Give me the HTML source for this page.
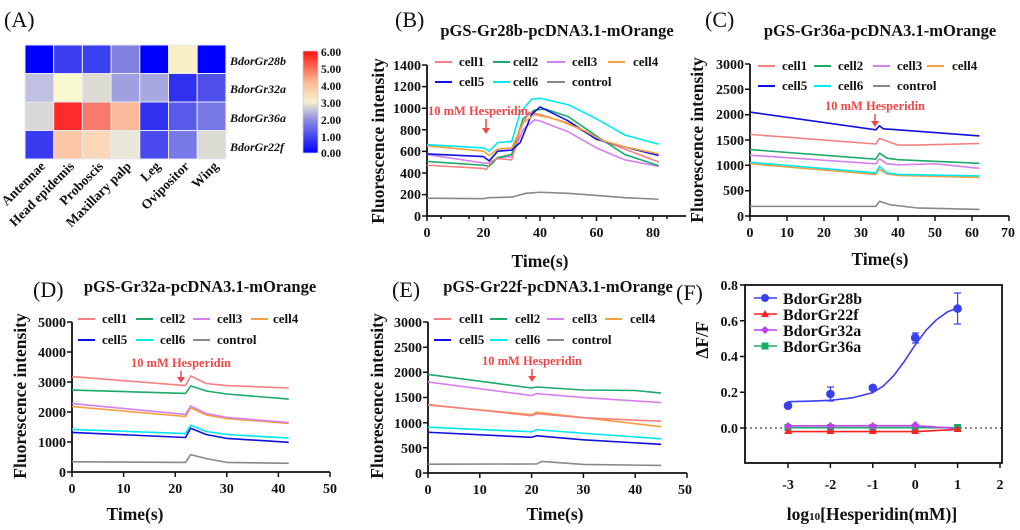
<!DOCTYPE html>
<html><head><meta charset="utf-8"><style>
html,body{margin:0;padding:0;background:#fff}
svg{display:block}
text{font-family:"Liberation Serif",serif;font-weight:bold;fill:#111}
.t{font-size:14px}
.lg{font-size:13px}
.ttl{font-size:16.5px}
.pl{font-size:22px;font-weight:normal}
.ax{font-size:17.5px}
.ln{fill:none;stroke-width:1.6;vector-effect:non-scaling-stroke;stroke-linejoin:round}
.axl{stroke:#111;stroke-width:1.8;fill:none}
.an{font-size:12.5px;fill:#f04848}
</style></head><body>
<svg width="1020" height="530" viewBox="0 0 1020 530" xmlns="http://www.w3.org/2000/svg">
<defs>
<linearGradient id="cb" x1="0" y1="1" x2="0" y2="0">
<stop offset="0" stop-color="#0000ff"/><stop offset="0.33" stop-color="#9090e0"/><stop offset="0.5" stop-color="#f5f0d0"/><stop offset="0.7" stop-color="#fbb890"/><stop offset="1" stop-color="#ff1010"/>
</linearGradient>
</defs>
<!-- (A) heatmap -->
<text x="4" y="27" class="pl">(A)</text>
<g stroke="#e8e8f0" stroke-width="1">
<rect x="25" y="45" width="28.7" height="28.5" fill="#0000ff"/>
<rect x="53.7" y="45" width="28.7" height="28.5" fill="#3a3ef0"/>
<rect x="82.4" y="45" width="28.7" height="28.5" fill="#3a40f0"/>
<rect x="111.1" y="45" width="28.7" height="28.5" fill="#8080e0"/>
<rect x="139.8" y="45" width="28.7" height="28.5" fill="#0000ff"/>
<rect x="168.5" y="45" width="28.7" height="28.5" fill="#faf0c8"/>
<rect x="197.2" y="45" width="28.7" height="28.5" fill="#0000ff"/>
<rect x="25" y="73.5" width="28.7" height="28.5" fill="#c0c0e0"/>
<rect x="53.7" y="73.5" width="28.7" height="28.5" fill="#fafad0"/>
<rect x="82.4" y="73.5" width="28.7" height="28.5" fill="#dcdcd4"/>
<rect x="111.1" y="73.5" width="28.7" height="28.5" fill="#a0a0e0"/>
<rect x="139.8" y="73.5" width="28.7" height="28.5" fill="#a8a8e0"/>
<rect x="168.5" y="73.5" width="28.7" height="28.5" fill="#3030f0"/>
<rect x="197.2" y="73.5" width="28.7" height="28.5" fill="#5050ea"/>
<rect x="25" y="102" width="28.7" height="28.5" fill="#d8d8d8"/>
<rect x="53.7" y="102" width="28.7" height="28.5" fill="#ff2a2a"/>
<rect x="82.4" y="102" width="28.7" height="28.5" fill="#f87a6a"/>
<rect x="111.1" y="102" width="28.7" height="28.5" fill="#fbb89a"/>
<rect x="139.8" y="102" width="28.7" height="28.5" fill="#3030f0"/>
<rect x="168.5" y="102" width="28.7" height="28.5" fill="#5a5aea"/>
<rect x="197.2" y="102" width="28.7" height="28.5" fill="#7878e6"/>
<rect x="25" y="130.5" width="28.7" height="28.5" fill="#3a3af0"/>
<rect x="53.7" y="130.5" width="28.7" height="28.5" fill="#fcc8a8"/>
<rect x="82.4" y="130.5" width="28.7" height="28.5" fill="#fcd8b8"/>
<rect x="111.1" y="130.5" width="28.7" height="28.5" fill="#e8e8d8"/>
<rect x="139.8" y="130.5" width="28.7" height="28.5" fill="#4a4aee"/>
<rect x="168.5" y="130.5" width="28.7" height="28.5" fill="#7878e8"/>
<rect x="197.2" y="130.5" width="28.7" height="28.5" fill="#dcdcd4"/>
</g>
<g style="font-style:italic;font-size:12px">
<text x="230" y="65">BdorGr28b</text>
<text x="230" y="93">BdorGr32a</text>
<text x="230" y="122">BdorGr36a</text>
<text x="230" y="151">BdorGr22f</text>
</g>
<g text-anchor="end" style="font-size:13.5px">
<text transform="translate(46,167) rotate(-45)">Antennae</text>
<text transform="translate(75,167) rotate(-45)">Head epidemis</text>
<text transform="translate(104,167) rotate(-45)">Proboscis</text>
<text transform="translate(132,167) rotate(-45)">Maxillary palp</text>
<text transform="translate(161,167) rotate(-45)">Leg</text>
<text transform="translate(190,167) rotate(-45)">Ovipositor</text>
<text transform="translate(219,167) rotate(-45)">Wing</text>
</g>
<rect x="303" y="51" width="15" height="102" fill="url(#cb)" stroke="#ccd" stroke-width="0.8"/>
<g style="font-size:11.5px">
<text x="321" y="56">6.00</text><text x="321" y="73">5.00</text><text x="321" y="90">4.00</text><text x="321" y="107">3.00</text><text x="321" y="124">2.00</text><text x="321" y="141">1.00</text><text x="321" y="157">0.00</text>
</g>

<!-- (B) -->
<text x="395" y="27" class="pl">(B)</text>
<text x="557" y="36" class="ttl" text-anchor="middle">pGS-Gr28b-pcDNA3.1-mOrange</text>
<path class="axl" d="M427,65 V216 H686"/>
<g stroke="#111" stroke-width="1.5">
<path d="M422,65h5M422,86.6h5M422,108.2h5M422,129.8h5M422,151.4h5M422,173h5M422,194.6h5M422,216h5"/>
<path d="M427,216v5M483.5,216v5M540,216v5M596.5,216v5M653,216v5M441,216v3M469,216v3M498,216v3M526,216v3M554,216v3M582,216v3M611,216v3M639,216v3M667,216v3"/>
</g>
<g class="t" text-anchor="end">
<text x="421" y="70">1400</text><text x="421" y="91">1200</text><text x="421" y="113">1000</text><text x="421" y="135">800</text><text x="421" y="156">600</text><text x="421" y="178">400</text><text x="421" y="199">200</text><text x="421" y="221">0</text>
</g>
<g class="t" text-anchor="middle">
<text x="427" y="237">0</text><text x="483.5" y="237">20</text><text x="540" y="237">40</text><text x="596.5" y="237">60</text><text x="653" y="237">80</text>
</g>
<text x="540" y="267" class="ax" text-anchor="middle">Time(s)</text>
<text transform="translate(384,141) rotate(-90)" class="ax" text-anchor="middle">Fluorescence intensity</text>
<g transform="translate(427,216) scale(2.825,-0.108)">
<polyline class="ln" stroke="#888888" points="0,165 20,160 22,170 30,175 35,210 40,220 50,210 60,190 70,170 82,155"/>
<polyline class="ln" stroke="#d580f0" points="0,570 20,490 22,490 25,540 30,550 34,800 38,890 40,880 50,780 60,630 70,520 82,460"/>
<polyline class="ln" stroke="#1aaa6a" points="0,505 20,470 22,460 25,540 30,570 34,900 38,980 42,990 50,920 60,740 70,570 82,465"/>
<polyline class="ln" stroke="#f58080" points="0,470 20,440 21,430 23,510 25,530 30,520 33,800 36,960 40,940 50,860 60,720 70,620 82,500"/>
<polyline class="ln" stroke="#1010e0" points="0,575 20,550 22,510 25,600 30,610 33,680 37,940 40,1010 50,880 60,710 70,640 82,560"/>
<polyline class="ln" stroke="#f5a040" points="0,650 20,600 22,560 25,620 30,630 34,860 38,940 45,900 55,800 62,700 70,640 82,575"/>
<polyline class="ln" stroke="#00e8f0" points="0,660 20,630 22,600 25,680 30,690 33,960 37,1080 40,1090 50,1030 60,900 70,750 82,665"/>
</g>
<text x="428" y="115" class="an">10 mM Hesperidin</text>
<path d="M486,119v11" stroke="#f04848" stroke-width="1.5"/><path d="M482,128l4,6l4,-6z" fill="#f04848"/>
<g stroke-width="2">
<path d="M435,62h17" stroke="#f58080"/><path d="M493,62h17" stroke="#1aaa6a"/><path d="M547,62h18" stroke="#d580f0"/><path d="M608,62h17" stroke="#f5a040"/>
<path d="M435,82h17" stroke="#1010e0"/><path d="M493,82h17" stroke="#00e8f0"/><path d="M547,82h18" stroke="#888"/>
</g>
<g class="lg">
<text x="459" y="66">cell1</text><text x="513" y="66">cell2</text><text x="572" y="66">cell3</text><text x="633" y="66">cell4</text>
<text x="459" y="86">cell5</text><text x="513" y="86">cell6</text><text x="572" y="86">control</text>
</g>

<!-- (C) -->
<text x="705" y="27" class="pl">(C)</text>
<text x="880" y="36" class="ttl" text-anchor="middle">pGS-Gr36a-pcDNA3.1-mOrange</text>
<path class="axl" d="M750,64 V216 H1009"/>
<g stroke="#111" stroke-width="1.5">
<path d="M745,64h5M745,89.3h5M745,114.7h5M745,140h5M745,165.3h5M745,190.7h5M745,216h5"/>
<path d="M750,216v5M787,216v5M824,216v5M861,216v5M898,216v5M935,216v5M972,216v5M1009,216v5"/>
</g>
<g class="t" text-anchor="end">
<text x="744" y="69">3000</text><text x="744" y="94">2500</text><text x="744" y="119">2000</text><text x="744" y="145">1500</text><text x="744" y="170">1000</text><text x="744" y="195">500</text><text x="744" y="221">0</text>
</g>
<g class="t" text-anchor="middle">
<text x="750" y="237">0</text><text x="787" y="237">10</text><text x="824" y="237">20</text><text x="861" y="237">30</text><text x="898" y="237">40</text><text x="935" y="237">50</text><text x="972" y="237">60</text><text x="1008" y="237">70</text>
</g>
<text x="880" y="265" class="ax" text-anchor="middle">Time(s)</text>
<text transform="translate(703,140) rotate(-90)" class="ax" text-anchor="middle">Fluorescence intensity</text>
<g transform="translate(750,216) scale(3.7,-0.0507)">
<polyline class="ln" stroke="#888888" points="0,190 34,190 35,290 38,220 45,160 62,130"/>
<polyline class="ln" stroke="#f5a040" points="0,1030 34,820 35,920 37,830 40,800 62,760"/>
<polyline class="ln" stroke="#00e8f0" points="0,1060 34,850 35,980 37,850 40,820 62,790"/>
<polyline class="ln" stroke="#d580f0" points="0,1200 34,1030 35,1130 37,1030 40,1010 50,1030 62,940"/>
<polyline class="ln" stroke="#1aaa6a" points="0,1310 34,1120 35,1240 37,1140 40,1110 62,1040"/>
<polyline class="ln" stroke="#f58080" points="0,1610 34,1420 35,1530 38,1450 40,1400 45,1400 62,1430"/>
<polyline class="ln" stroke="#1010e0" points="0,2050 34,1700 35,1780 36,1720 40,1700 62,1580"/>
</g>
<text x="875" y="110" class="an" text-anchor="middle">10 mM Hesperidin</text>
<path d="M875,114v9" stroke="#f04848" stroke-width="1.5"/><path d="M871,121l4,6l4,-6z" fill="#f04848"/>
<g stroke-width="2">
<path d="M758,66h17" stroke="#f58080"/><path d="M814,66h17" stroke="#1aaa6a"/><path d="M873,66h17" stroke="#d580f0"/><path d="M927,66h17" stroke="#f5a040"/>
<path d="M758,86h17" stroke="#1010e0"/><path d="M814,86h17" stroke="#00e8f0"/><path d="M873,86h17" stroke="#888"/>
</g>
<g class="lg">
<text x="782" y="70">cell1</text><text x="838" y="70">cell2</text><text x="897" y="70">cell3</text><text x="952" y="70">cell4</text>
<text x="782" y="90">cell5</text><text x="838" y="90">cell6</text><text x="897" y="90">control</text>
</g>

<!-- (D) -->
<text x="33" y="297" class="pl">(D)</text>
<text x="200" y="292" class="ttl" text-anchor="middle">pGS-Gr32a-pcDNA3.1-mOrange</text>
<path class="axl" d="M72,322 V472 H330"/>
<g stroke="#111" stroke-width="1.5">
<path d="M67,322h5M67,352h5M67,382h5M67,412h5M67,442h5M67,472h5"/>
<path d="M72,472v5M123.6,472v5M175.2,472v5M226.8,472v5M278.4,472v5M330,472v5"/>
</g>
<g class="t" text-anchor="end">
<text x="66" y="327">5000</text><text x="66" y="357">4000</text><text x="66" y="387">3000</text><text x="66" y="417">2000</text><text x="66" y="447">1000</text><text x="66" y="477">0</text>
</g>
<g class="t" text-anchor="middle">
<text x="72" y="493">0</text><text x="123.6" y="493">10</text><text x="175.2" y="493">20</text><text x="226.8" y="493">30</text><text x="278.4" y="493">40</text><text x="330" y="493">50</text>
</g>
<text x="135" y="520" class="ax" text-anchor="middle">Time(s)</text>
<text transform="translate(26,396) rotate(-90)" class="ax" text-anchor="middle">Fluorescence intensity</text>
<g transform="translate(72,472) scale(5.16,-0.03)">
<polyline class="ln" stroke="#888888" points="0,340 22,320 23,580 26,450 30,320 42,290"/>
<polyline class="ln" stroke="#1010e0" points="0,1320 22,1150 23,1460 26,1250 30,1120 42,990"/>
<polyline class="ln" stroke="#00e8f0" points="0,1420 22,1280 23,1560 26,1350 30,1250 42,1130"/>
<polyline class="ln" stroke="#f5a040" points="0,2180 22,1850 23,2140 26,1900 30,1780 42,1620"/>
<polyline class="ln" stroke="#d580f0" points="0,2280 22,1920 23,2200 26,1950 30,1820 42,1650"/>
<polyline class="ln" stroke="#1aaa6a" points="0,2730 22,2620 23,2870 26,2700 30,2600 42,2430"/>
<polyline class="ln" stroke="#f58080" points="0,3180 22,2880 23,3200 26,2950 30,2880 42,2800"/>
</g>
<text x="181" y="367" class="an" text-anchor="middle">10 mM Hesperidin</text>
<path d="M181,371v8" stroke="#f04848" stroke-width="1.5"/><path d="M177,377l4,6l4,-6z" fill="#f04848"/>
<g stroke-width="2">
<path d="M78,319h17" stroke="#f58080"/><path d="M136,319h17" stroke="#1aaa6a"/><path d="M193,319h17" stroke="#d580f0"/><path d="M251,319h17" stroke="#f5a040"/>
<path d="M78,340h17" stroke="#1010e0"/><path d="M136,340h17" stroke="#00e8f0"/><path d="M193,340h17" stroke="#888"/>
</g>
<g class="lg">
<text x="102" y="323">cell1</text><text x="160" y="323">cell2</text><text x="217" y="323">cell3</text><text x="273" y="323">cell4</text>
<text x="102" y="344">cell5</text><text x="160" y="344">cell6</text><text x="217" y="344">control</text>
</g>

<!-- (E) -->
<text x="392" y="297" class="pl">(E)</text>
<text x="558" y="292" class="ttl" text-anchor="middle">pGS-Gr22f-pcDNA3.1-mOrange</text>
<path class="axl" d="M428,322 V473 H687"/>
<g stroke="#111" stroke-width="1.5">
<path d="M423,322h5M423,347.2h5M423,372.3h5M423,397.5h5M423,422.7h5M423,447.8h5M423,473h5"/>
<path d="M428,473v5M479.8,473v5M531.6,473v5M583.4,473v5M635.2,473v5M687,473v5"/>
</g>
<g class="t" text-anchor="end">
<text x="422" y="327">3000</text><text x="422" y="352">2500</text><text x="422" y="377">2000</text><text x="422" y="402">1500</text><text x="422" y="428">1000</text><text x="422" y="453">500</text><text x="422" y="478">0</text>
</g>
<g class="t" text-anchor="middle">
<text x="428" y="494">0</text><text x="479.8" y="494">10</text><text x="531.6" y="494">20</text><text x="583.4" y="494">30</text><text x="635.2" y="494">40</text><text x="685" y="494">50</text>
</g>
<text x="555" y="520" class="ax" text-anchor="middle">Time(s)</text>
<text transform="translate(383,396) rotate(-90)" class="ax" text-anchor="middle">Fluorescence intensity</text>
<g transform="translate(428,473) scale(5.18,-0.0503)">
<polyline class="ln" stroke="#888888" points="0,175 21,180 22,230 30,170 45,150"/>
<polyline class="ln" stroke="#1010e0" points="0,810 20,710 21,740 30,660 45,570"/>
<polyline class="ln" stroke="#00e8f0" points="0,910 20,820 21,860 30,790 45,680"/>
<polyline class="ln" stroke="#f5a040" points="0,1350 20,1160 21,1210 30,1100 40,980 45,920"/>
<polyline class="ln" stroke="#f58080" points="0,1360 20,1140 21,1180 30,1100 40,1050 45,1030"/>
<polyline class="ln" stroke="#d580f0" points="0,1810 20,1540 21,1580 30,1500 45,1400"/>
<polyline class="ln" stroke="#1aaa6a" points="0,1960 20,1690 21,1710 30,1650 40,1640 45,1590"/>
</g>
<text x="532" y="365" class="an" text-anchor="middle">10 mM Hesperidin</text>
<path d="M532,369v8" stroke="#f04848" stroke-width="1.5"/><path d="M528,376l4,6l4,-6z" fill="#f04848"/>
<g stroke-width="2">
<path d="M434,319h17" stroke="#f58080"/><path d="M490,319h17" stroke="#1aaa6a"/><path d="M547,319h17" stroke="#d580f0"/><path d="M605,319h17" stroke="#f5a040"/>
<path d="M434,340h17" stroke="#1010e0"/><path d="M490,340h17" stroke="#00e8f0"/><path d="M547,340h17" stroke="#888"/>
</g>
<g class="lg">
<text x="459" y="323">cell1</text><text x="515" y="323">cell2</text><text x="572" y="323">cell3</text><text x="630" y="323">cell4</text>
<text x="459" y="344">cell5</text><text x="515" y="344">cell6</text><text x="572" y="344">control</text>
</g>

<!-- (F) -->
<text x="676" y="300" class="pl">(F)</text>
<rect x="745" y="285" width="257" height="178" fill="none" stroke="#111" stroke-width="1.8"/>
<path d="M745,428H1002" stroke="#111" stroke-width="1" stroke-dasharray="2,3"/>
<g stroke="#111" stroke-width="1.5">
<path d="M740,285h5M740,320.8h5M740,356.5h5M740,392.3h5M740,428h5"/>
<path d="M788,463v5M830.4,463v5M872.8,463v5M915.2,463v5M957.6,463v5M1000,463v5"/>
</g>
<g class="t" text-anchor="end">
<text x="738" y="290">0.8</text><text x="738" y="326">0.6</text><text x="738" y="361">0.4</text><text x="738" y="397">0.2</text><text x="738" y="433">0.0</text>
</g>
<g class="t" text-anchor="middle">
<text x="788" y="489">-3</text><text x="830.4" y="489">-2</text><text x="872.8" y="489">-1</text><text x="915.2" y="489">0</text><text x="957.6" y="489">1</text><text x="1000" y="489">2</text>
</g>
<text x="872" y="520" class="ax" text-anchor="middle">log<tspan style="font-size:11px">10</tspan>[Hesperidin(mM)]</text>
<text transform="translate(708,340) rotate(-90)" class="ax" text-anchor="middle">ΔF/F</text>
<g transform="translate(915.2,428) scale(42.4,-178.75)">
<polyline class="ln" stroke="#1aaa6a" points="-3,0.002 1,0.002"/>
<polyline class="ln" stroke="#c040f0" points="-3,0.012 0,0.013 1,-0.003"/>
<polyline class="ln" stroke="#ff2020" points="-3,-0.02 0,-0.02 1,-0.008"/>
<polyline class="ln" stroke="#3a40f0" points="-3,0.147 -2.5,0.15 -2,0.155 -1.5,0.168 -1,0.198 -0.75,0.235 -0.5,0.295 -0.25,0.375 0,0.465 0.25,0.545 0.5,0.605 0.75,0.648 1,0.673"/>
</g>
<g stroke="#3a40f0" stroke-width="1.2">
<path d="M830.4,387v14M827,387h7M827,401h7"/>
<path d="M915.2,333v10M912,333h7M912,343h7"/>
<path d="M957.6,293v31M954,293h7M954,324h7"/>
</g>
<g fill="#3a40f0">
<circle cx="788" cy="405.7" r="4.3"/><circle cx="830.4" cy="394" r="4.3"/><circle cx="872.8" cy="387.8" r="4.3"/><circle cx="915.2" cy="337.7" r="4.3"/><circle cx="957.6" cy="308.6" r="4.3"/>
</g>
<g fill="#1aaa6a"><rect x="784.5" y="424" width="7" height="7"/><rect x="827" y="424" width="7" height="7"/><rect x="869.3" y="424" width="7" height="7"/><rect x="911.7" y="424" width="7" height="7"/><rect x="954" y="424" width="7" height="7"/></g>
<g fill="#ff2020"><path d="M788,427l4,7h-8z M830.4,427l4,7h-8z M872.8,427l4,7h-8z M915.2,427l4,7h-8z M957.6,425l4,7h-8z"/></g>
<g fill="#c040f0"><path d="M788,422l4,4l-4,4l-4,-4z M830.4,422l4,4l-4,4l-4,-4z M872.8,422l4,4l-4,4l-4,-4z M915.2,421l4,4l-4,4l-4,-4z"/></g>
<!-- F legend -->
<g stroke-width="1.6">
<path d="M754,298h23" stroke="#3a40f0"/><circle cx="765" cy="298" r="4" fill="#3a40f0"/>
<path d="M754,314h23" stroke="#ff2020"/><path d="M765,310l4,7h-8z" fill="#ff2020"/>
<path d="M754,330h23" stroke="#c040f0"/><path d="M765,326l4,4l-4,4l-4,-4z" fill="#c040f0"/>
<path d="M754,346h23" stroke="#1aaa6a"/><rect x="761.5" y="342.5" width="7" height="7" fill="#1aaa6a"/>
</g>
<g style="font-size:16px">
<text x="783" y="304">BdorGr28b</text><text x="783" y="320">BdorGr22f</text><text x="783" y="336">BdorGr32a</text><text x="783" y="352">BdorGr36a</text>
</g>
</svg>
</body></html>
